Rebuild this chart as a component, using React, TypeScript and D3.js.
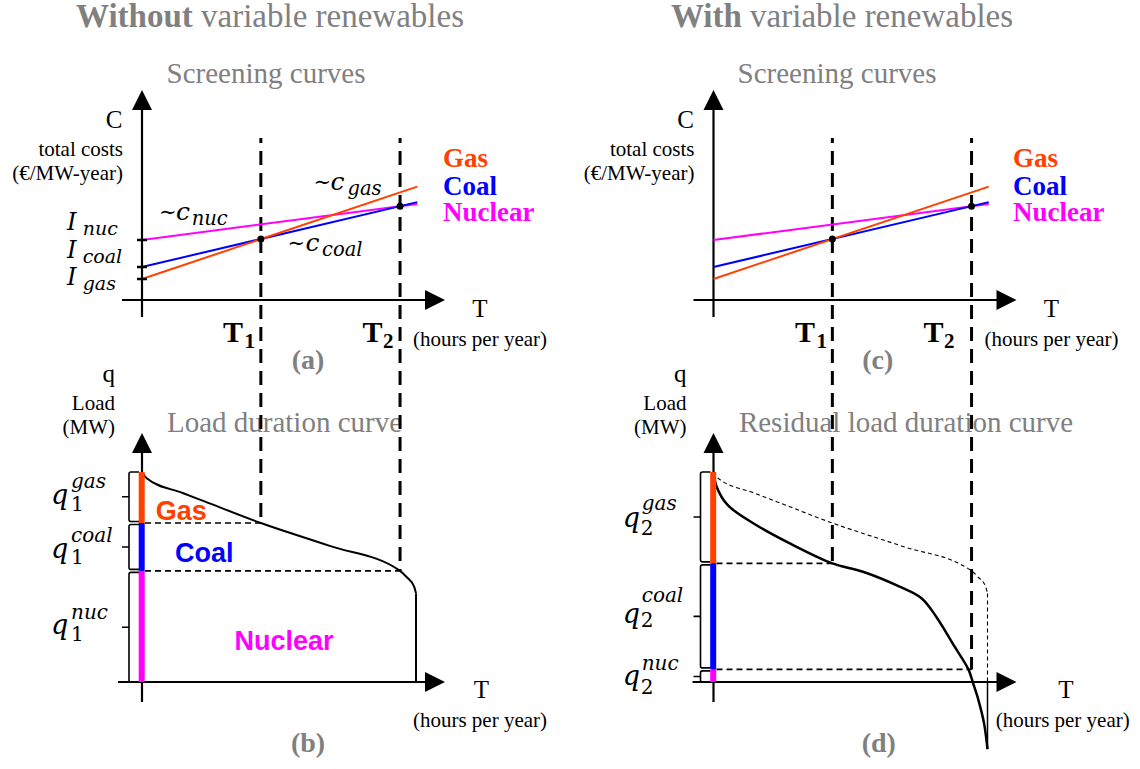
import React from "react";
import * as d3 from "d3";

// ---------- data ----------
const hoursMax = 8760;
const T1 = 3800;
const T2 = 8250;
const lineEndHours = 8800;
const techNames = ["Gas", "Coal", "Nuclear"];
const techKeys = ["gas", "coal", "nuc"];
const fixedCosts = [21, 33, 60]; // I_gas, I_coal, I_nuc
const variableCosts = [10.5, 7.37, 4.1]; // per 1000 h

const ldcHours = [0, 150, 1300, 2000, 3800, 6000, 8250, 8450, 8700, 8760];
const ldcLoad = [100, 97, 90, 86, 75.7, 64.8, 52.9, 50.1, 45.4, 42.2];
const ldcSplits = [100, 75.7, 52.9, 0];

const rldcHours = [0, 100, 450, 1270, 2440, 3800, 4780, 5950, 6650, 7120, 7710, 8150, 8300, 8470, 8650, 8760];
const rldcLoad = [100, 93, 84.3, 75.6, 66, 56.5, 52.5, 45.4, 39.9, 31.1, 16.8, 6, -0.6, -8.6, -19.7, -32];
const rldcSplits = [100, 56.5, 6, 0];

// ---------- style ----------
const COLORS: Record<string, string> = { gas: "#ff4000", coal: "#0000ff", nuc: "#ff00ff" };
const GRAY = "#808080";
const SERIF = "'Liberation Serif', 'Times New Roman', serif";
const SANS = "'Liberation Sans', Arial, sans-serif";
const MATH = "'DejaVu Serif', serif";

const xL = d3.scaleLinear().domain([0, hoursMax]).range([142, 416]);
const xR = d3.scaleLinear().domain([0, hoursMax]).range([713.5, 987.5]);
const yC = d3.scaleLinear().domain([0, 200]).range([300, 100]);
const yQ = d3.scaleLinear().domain([0, 100]).range([682, 472]);

const cost = (i: number, h: number) => fixedCosts[i] + (variableCosts[i] * h) / 1000;

function AxisUp({ ax, top, bottom }: { ax: number; top: number; bottom: number }) {
  return (
    <g>
      <line x1={ax} y1={bottom} x2={ax} y2={top + 16} stroke="#000" strokeWidth={2.2} />
      <path d={`M${ax},${top} L${ax - 10},${top + 20} L${ax + 10},${top + 20} Z`} fill="#000" />
    </g>
  );
}
function AxisRight({ ax, y, left }: { ax: number; y: number; left: number }) {
  const tip = ax + 303;
  return (
    <g>
      <line x1={left} y1={y} x2={tip - 16} y2={y} stroke="#000" strokeWidth={2.2} />
      <path d={`M${tip},${y} L${tip - 20},${y - 10} L${tip - 20},${y + 10} Z`} fill="#000" />
    </g>
  );
}

function Screening({ x, showMath, letter, cx, tLabels, legendX }: any) {
  const ax = x(0);
  const order = [2, 1, 0];
  const tIntersect1 = cost(1, T1);
  const tIntersect2 = cost(2, T2);
  return (
    <g>
      <AxisUp ax={ax} top={90} bottom={317} />
      <AxisRight ax={ax} y={yC(0)} left={ax - 20} />
      {order.map((i) => (
        <line
          key={i}
          x1={x(0)}
          y1={yC(cost(i, 0))}
          x2={x(lineEndHours)}
          y2={yC(cost(i, lineEndHours))}
          stroke={COLORS[techKeys[i]]}
          strokeWidth={2}
        />
      ))}
      {showMath &&
        fixedCosts.map((c, i) => (
          <line key={i} x1={ax - 5} x2={ax + 5} y1={yC(c)} y2={yC(c)} stroke="#000" strokeWidth={2.5} />
        ))}
      <circle cx={x(T1)} cy={yC(tIntersect1)} r={3.5} fill="#000" />
      <circle cx={x(T2)} cy={yC(tIntersect2)} r={3.5} fill="#000" />
      {/* axis labels */}
      <text x={ax - 28} y={128} fontFamily={SERIF} fontSize={25} textAnchor="middle">C</text>
      <text x={ax - 19} y={156} fontFamily={SERIF} fontSize={21} textAnchor="end">total costs</text>
      <text x={ax - 19} y={180} fontFamily={SERIF} fontSize={21} textAnchor="end">(€/MW-year)</text>
      <text x={ax + 338} y={316.5} fontFamily={SERIF} fontSize={25} textAnchor="middle">T</text>
      <text x={ax + 338} y={346} fontFamily={SERIF} fontSize={21} textAnchor="middle">(hours per year)</text>
      <text x={cx} y={369} fontFamily={SERIF} fontSize={28} fontWeight="bold" fill={GRAY} textAnchor="middle">{letter}</text>
      {/* T1/T2 labels */}
      <text x={tLabels[0]} y={341.5} fontFamily={SERIF} fontSize={30} fontWeight="bold">T</text>
      <text x={tLabels[0] + 21.5} y={348} fontFamily={SERIF} fontSize={21} fontWeight="bold">1</text>
      <text x={tLabels[1]} y={341.5} fontFamily={SERIF} fontSize={30} fontWeight="bold">T</text>
      <text x={tLabels[1] + 20.5} y={348} fontFamily={SERIF} fontSize={21} fontWeight="bold">2</text>
      {/* legend */}
      {[0, 1, 2].map((i) => (
        <text key={i} x={legendX} y={[167, 195, 221][i]} fontFamily={SERIF} fontSize={27} fontWeight="bold" fill={COLORS[techKeys[i]]}>
          {techNames[i]}
        </text>
      ))}
      {showMath && (
        <g fontFamily={MATH} fontStyle="italic">
          {/* I labels: gas, coal, nuc */}
          {[0, 1, 2].map((i) => (
            <g key={i}>
              <text x={67} y={[285, 257.7, 230][i]} fontSize={24}>I</text>
              <text x={82.7} y={[290, 263, 235][i]} fontSize={19}>{techKeys[i]}</text>
            </g>
          ))}
          {/* ~c labels */}
          {[
            { k: "nuc", t: 159, c: 176, s: 191.7, b: 220 },
            { k: "gas", t: 313.5, c: 330.5, s: 347.5, b: 190 },
            { k: "coal", t: 287.5, c: 305.5, s: 322, b: 251 },
          ].map((d) => (
            <g key={d.k}>
              <text x={d.t} y={d.b - 1} fontSize={21} fontStyle="normal">∼</text>
              <text x={d.c} y={d.b} fontSize={25}>c</text>
              <text x={d.s} y={d.b + 5} fontSize={19.5}>{d.k}</text>
            </g>
          ))}
        </g>
      )}
    </g>
  );
}

function Bracket({ ax, y0, y1 }: { ax: number; y0: number; y1: number }) {
  const xb = ax - 13;
  const d = `M${xb + 10},${y0} L${xb + 2},${y0} Q${xb},${y0} ${xb},${y0 + 2} L${xb},${y1 - 2} Q${xb},${y1} ${xb + 2},${y1} L${xb + 10},${y1} M${xb},${(y0 + y1) / 2} L${xb - 7},${(y0 + y1) / 2}`;
  return <path d={d} fill="none" stroke="#000" strokeWidth={1.6} />;
}

function Bands({ ax, splits }: { ax: number; splits: number[] }) {
  const keys = ["gas", "coal", "nuc"];
  return (
    <g>
      {keys.map((k, i) => {
        const yt = yQ(splits[i]);
        const yb = yQ(splits[i + 1]);
        return (
          <g key={k}>
            <Bracket ax={ax} y0={yt + (i === 0 ? 0 : 1.5)} y1={yb - (i === 2 ? 0 : 1.5)} />
            <rect x={ax - 3.3} y={yt} width={6} height={yb - yt} fill={COLORS[k]} />
          </g>
        );
      })}
    </g>
  );
}

function QLabels({ qx, supX, subX, qBase, supBase, subBase, idx }: any) {
  return (
    <g fontFamily={MATH} fontStyle="italic">
      {["gas", "coal", "nuc"].map((k, i) => (
        <g key={k}>
          <text x={qx} y={qBase[i]} fontSize={27}>q</text>
          <text x={supX} y={supBase[i]} fontSize={20}>{k}</text>
          <text x={subX} y={subBase[i]} fontSize={20} fontStyle="normal">{idx}</text>
        </g>
      ))}
    </g>
  );
}

// dashed vertical line starting with a partial dash at the top
const DASH = 14;
const GAP = 8;

export default function App() {
  const lineL = d3
    .line<number>()
    .x((_, i) => xL(ldcHours[i]))
    .y((d) => yQ(d))
    .curve(d3.curveMonotoneX);
  const lineR0 = d3
    .line<number>()
    .x((_, i) => xR(ldcHours[i]))
    .y((d) => yQ(d))
    .curve(d3.curveMonotoneX);
  const lineR = d3
    .line<number>()
    .x((_, i) => xR(rldcHours[i]))
    .y((d) => yQ(d))
    .curve(d3.curveCatmullRom.alpha(0.5));
  const ldcLast = ldcLoad[ldcLoad.length - 1];
  const rldcLast = rldcLoad[rldcLoad.length - 1];

  return (
    <svg width={1140} height={769} style={{ position: "absolute", left: 0, top: 0, background: "#fff" }}>
      <rect width={1140} height={769} fill="#fff" />
      {/* headers */}
      <text x={270} y={27} textAnchor="middle" fontFamily={SERIF} fontSize={33} fill={GRAY}>
        <tspan fontWeight="bold">Without</tspan> variable renewables
      </text>
      <text x={842} y={27} textAnchor="middle" fontFamily={SERIF} fontSize={33} fill={GRAY}>
        <tspan fontWeight="bold">With</tspan> variable renewables
      </text>
      <text x={266} y={83} textAnchor="middle" fontFamily={SERIF} fontSize={29} fill={GRAY}>Screening curves</text>
      <text x={837} y={83} textAnchor="middle" fontFamily={SERIF} fontSize={29} fill={GRAY}>Screening curves</text>
      <text x={284.5} y={432} textAnchor="middle" fontFamily={SERIF} fontSize={29} fill={GRAY}>Load duration curve</text>
      <text x={906} y={432} textAnchor="middle" fontFamily={SERIF} fontSize={29} fill={GRAY}>Residual load duration curve</text>

      {/* dashed T lines */}
      <g stroke="#000" strokeWidth={3} strokeDasharray={`${DASH},${GAP}`} strokeDashoffset={9}>
        <line x1={xL(T1)} x2={xL(T1)} y1={138} y2={yQ(ldcSplits[1])} />
        <line x1={xL(T2)} x2={xL(T2)} y1={138} y2={yQ(ldcSplits[2])} />
        <line x1={xR(T1)} x2={xR(T1)} y1={138} y2={yQ(rldcSplits[1])} />
        <line x1={xR(T2)} x2={xR(T2)} y1={138} y2={yQ(rldcSplits[2])} />
      </g>

      <Screening x={xL} showMath={true} letter="(a)" cx={308} tLabels={[223, 362.6]} legendX={443} />
      <Screening x={xR} showMath={false} letter="(c)" cx={877.7} tLabels={[795, 923.5]} legendX={1013} />

      {/* ---- panel (b) ---- */}
      <AxisUp ax={xL(0)} top={433} bottom={702} />
      <AxisRight ax={xL(0)} y={yQ(0)} left={118} />
      <g stroke="#000" strokeWidth={1.6} strokeDasharray="6,4">
        <line x1={xL(0) + 3} x2={xL(T1)} y1={yQ(ldcSplits[1])} y2={yQ(ldcSplits[1])} />
        <line x1={xL(0) + 3} x2={xL(T2)} y1={yQ(ldcSplits[2])} y2={yQ(ldcSplits[2])} />
      </g>
      <path d={lineL(ldcLoad) || ""} fill="none" stroke="#000" strokeWidth={2} />
      <line x1={xL(hoursMax)} x2={xL(hoursMax)} y1={yQ(ldcLast)} y2={yQ(0)} stroke="#000" strokeWidth={2} />
      <Bands ax={xL(0)} splits={ldcSplits} />
      <text x={155.7} y={520} fontFamily={SANS} fontWeight="bold" fontSize={27} fill={COLORS.gas}>Gas</text>
      <text x={175} y={561.5} fontFamily={SANS} fontWeight="bold" fontSize={27} fill={COLORS.coal}>Coal</text>
      <text x={234.4} y={650} fontFamily={SANS} fontWeight="bold" fontSize={27} fill={COLORS.nuc}>Nuclear</text>
      <QLabels qx={51} supX={71} subX={71} qBase={[504, 558, 634]} supBase={[487.5, 542, 619]} subBase={[511, 564, 641]} idx="1" />
      <text x={115} y={382} textAnchor="end" fontFamily={SERIF} fontSize={25}>q</text>
      <text x={115} y={410} textAnchor="end" fontFamily={SERIF} fontSize={21}>Load</text>
      <text x={115} y={434} textAnchor="end" fontFamily={SERIF} fontSize={21}>(MW)</text>
      <text x={481.5} y={698} textAnchor="middle" fontFamily={SERIF} fontSize={25}>T</text>
      <text x={480} y={727} textAnchor="middle" fontFamily={SERIF} fontSize={21}>(hours per year)</text>
      <text x={308} y={752} textAnchor="middle" fontFamily={SERIF} fontSize={28} fontWeight="bold" fill={GRAY}>(b)</text>

      {/* ---- panel (d) ---- */}
      <AxisUp ax={xR(0)} top={433} bottom={702} />
      <AxisRight ax={xR(0)} y={yQ(0)} left={692.5} />
      <g stroke="#000" strokeWidth={1.6} strokeDasharray="6,4">
        <line x1={xR(0) + 3} x2={xR(T1)} y1={yQ(rldcSplits[1])} y2={yQ(rldcSplits[1])} />
        <line x1={xR(0) + 3} x2={xR(T2)} y1={yQ(rldcSplits[2])} y2={yQ(rldcSplits[2])} />
      </g>
      <g stroke="#000" strokeWidth={1.1} strokeDasharray="4,3" fill="none">
        <path d={lineR0(ldcLoad) || ""} />
        <line x1={xR(hoursMax)} x2={xR(hoursMax)} y1={yQ(ldcLast)} y2={yQ(0)} />
      </g>
      <path d={lineR(rldcLoad) || ""} fill="none" stroke="#000" strokeWidth={2.5} />
      <line x1={xR(hoursMax)} x2={xR(hoursMax)} y1={yQ(0)} y2={yQ(rldcLast)} stroke="#000" strokeWidth={1.5} />
      <Bands ax={xR(0)} splits={rldcSplits} />
      <QLabels qx={622.7} supX={641.7} subX={640.7} qBase={[527, 623, 685]} supBase={[510, 602, 670]} subBase={[535, 627, 694]} idx="2" />
      <text x={686.5} y={382} textAnchor="end" fontFamily={SERIF} fontSize={25}>q</text>
      <text x={686.5} y={410} textAnchor="end" fontFamily={SERIF} fontSize={21}>Load</text>
      <text x={686.5} y={434} textAnchor="end" fontFamily={SERIF} fontSize={21}>(MW)</text>
      <text x={1066} y={698} textAnchor="middle" fontFamily={SERIF} fontSize={25}>T</text>
      <text x={1062.7} y={727} textAnchor="middle" fontFamily={SERIF} fontSize={21}>(hours per year)</text>
      <text x={878.8} y={752} textAnchor="middle" fontFamily={SERIF} fontSize={28} fontWeight="bold" fill={GRAY}>(d)</text>
    </svg>
  );
}
